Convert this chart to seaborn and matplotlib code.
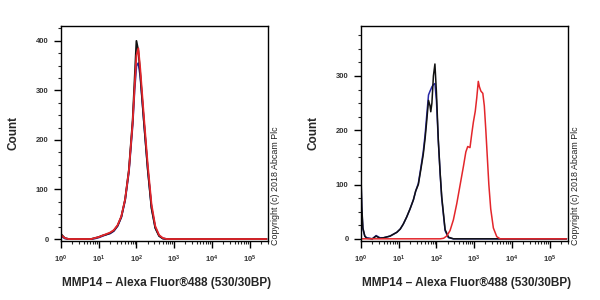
import numpy as np
import pandas as pd
import matplotlib
matplotlib.use('Agg')
import matplotlib.pyplot as plt
import seaborn as sns
from matplotlib.ticker import LogLocator, LogFormatterMathtext, MultipleLocator, NullFormatter

# ---- data: x is log10 of the fluorescence channel, y is the count ----
# left panel: three overlapping histograms
left_x = [0.0, 0.05, 0.1, 0.2, 0.5, 0.8, 0.9, 1.0, 1.1, 1.2, 1.3, 1.4, 1.5, 1.6, 1.7,
          1.8, 1.9, 1.95, 2.0, 2.05, 2.1, 2.2, 2.3, 2.4, 2.5, 2.6, 2.7, 2.8, 3.0, 5.45]
left_black = [10, 6, 2, 0, 0, 0, 2, 4, 7, 9, 12, 17, 27, 45, 80,
              140, 240, 320, 400, 380, 335, 235, 140, 62, 22, 6, 1, 0, 0, 0]
left_red = [8, 5, 2, 0, 0, 0, 2, 4, 7, 10, 13, 18, 28, 46, 80,
            138, 235, 305, 370, 385, 345, 245, 150, 70, 26, 8, 2, 0, 0, 0]
left_blue = [6, 4, 1, 0, 0, 0, 1, 3, 6, 9, 11, 16, 26, 44, 78,
             135, 230, 300, 350, 355, 330, 235, 142, 64, 23, 7, 1, 0, 0, 0]

# right panel: isotype / unstained (black, blue) and stained (red)
right_x = [0.0, 0.02, 0.05, 0.1, 0.15, 0.3, 0.4, 0.5, 0.6, 0.77, 0.95, 1.04, 1.12, 1.21,
           1.3, 1.39, 1.45, 1.52, 1.58, 1.65, 1.7, 1.74, 1.79, 1.83, 1.85, 1.88, 1.92,
           1.96, 2.0, 2.05, 2.1, 2.14, 2.23, 2.32, 2.45, 5.45]
right_black = [115, 60, 20, 5, 1, 0, 5, 1, 2, 5, 12, 18, 27, 40,
               55, 72, 88, 100, 125, 155, 185, 215, 255, 245, 234, 250, 300,
               322, 270, 182, 120, 78, 17, 3, 0, 0]
right_blue = [110, 55, 18, 5, 2, 0, 6, 2, 2, 5, 12, 18, 27, 40,
              55, 72, 88, 102, 128, 160, 192, 225, 265, 272, 275, 280, 284,
              286, 255, 180, 118, 75, 15, 2, 0, 0]
red_x = [0.0, 2.1, 2.19, 2.27, 2.36, 2.45, 2.54, 2.63, 2.72, 2.78, 2.83, 2.89, 2.94,
         2.98, 3.03, 3.07, 3.11, 3.14, 3.18, 3.23, 3.27, 3.31, 3.35, 3.39, 3.44, 3.51,
         3.6, 3.69, 5.45]
right_red = [0, 0, 1, 5, 15, 35, 65, 100, 135, 160, 170, 168, 195,
             215, 235, 260, 290, 280, 272, 268, 245, 200, 150, 100, 55, 20,
             4, 0, 0]

colors = {'black': '#111111', 'red': '#e3262b', 'blue': '#2a2aa8'}
x_label = 'MMP14 \u2013 Alexa Fluor\u00ae488 (530/30BP)'

sns.set_style('white')
plt.rcParams['font.family'] = ['Liberation Sans', 'DejaVu Sans']


def make_df(series):
    rows = []
    for name, xs, ys in series:
        for x, y in zip(xs, ys):
            rows.append({'x': 10 ** x, 'count': y, 'sample': name})
    return pd.DataFrame(rows)


def style_axis(ax, ytop, yticks):
    ax.set_xscale('log')
    ax.set_xlim(1, 10 ** 5.49)
    ax.set_ylim(-4, ytop)
    ax.set_yticks(yticks)
    ax.yaxis.set_minor_locator(MultipleLocator(25))
    ax.xaxis.set_major_locator(LogLocator(base=10, numticks=10))
    ax.xaxis.set_major_formatter(LogFormatterMathtext())
    ax.xaxis.set_minor_locator(LogLocator(base=10, subs=np.arange(2, 10), numticks=20))
    ax.xaxis.set_minor_formatter(NullFormatter())
    ax.tick_params(which='major', direction='out', length=5, width=1, labelsize=5.5,
                   colors='black', labelcolor='#333333', pad=4)
    ax.tick_params(which='minor', direction='out', length=2.5, width=0.8)
    ax.tick_params(left=True, bottom=True, top=False, right=False, which='both')
    for lab in ax.get_xticklabels() + ax.get_yticklabels():
        lab.set_fontweight('bold')
    for sp in ax.spines.values():
        sp.set_color('black')
        sp.set_linewidth(1)
    ax.set_xlabel('')
    ax.set_ylabel('')
    if ax.get_legend() is not None:
        ax.get_legend().remove()


fig = plt.figure(figsize=(6, 3), dpi=100)
ax1 = fig.add_axes([0.1017, 0.1967, 0.345, 0.7167])
ax2 = fig.add_axes([0.6017, 0.1967, 0.345, 0.7167])

df_left = make_df([('blue', left_x, left_blue), ('black', left_x, left_black),
                   ('red', left_x, left_red)])
sns.lineplot(data=df_left, x='x', y='count', hue='sample', palette=colors,
             estimator=None, sort=False, linewidth=1.3, ax=ax1)
style_axis(ax1, 430, [0, 100, 200, 300, 400])

df_right = make_df([('blue', right_x, right_blue), ('black', right_x, right_black),
                    ('red', red_x, right_red)])
sns.lineplot(data=df_right, x='x', y='count', hue='sample', palette=colors,
             estimator=None, sort=False, linewidth=1.1, ax=ax2)
style_axis(ax2, 392, [0, 100, 200, 300])

for ax, x0 in [(ax1, 0.0), (ax2, 0.5)]:
    fig.text(x0 + 0.022, 0.555, 'Count', rotation=90, ha='center', va='center',
             fontsize=8.5, fontweight='bold')
    fig.text(x0 + 0.277, 0.057, x_label, ha='center', va='center',
             fontsize=8.5, fontweight='bold')
    fig.text(x0 + 0.46, 0.183, 'Copyright (c) 2018 Abcam Plc', rotation=90,
             ha='center', va='bottom', fontsize=6.4, color='#222222')

fig.savefig('out.png', dpi=100)
